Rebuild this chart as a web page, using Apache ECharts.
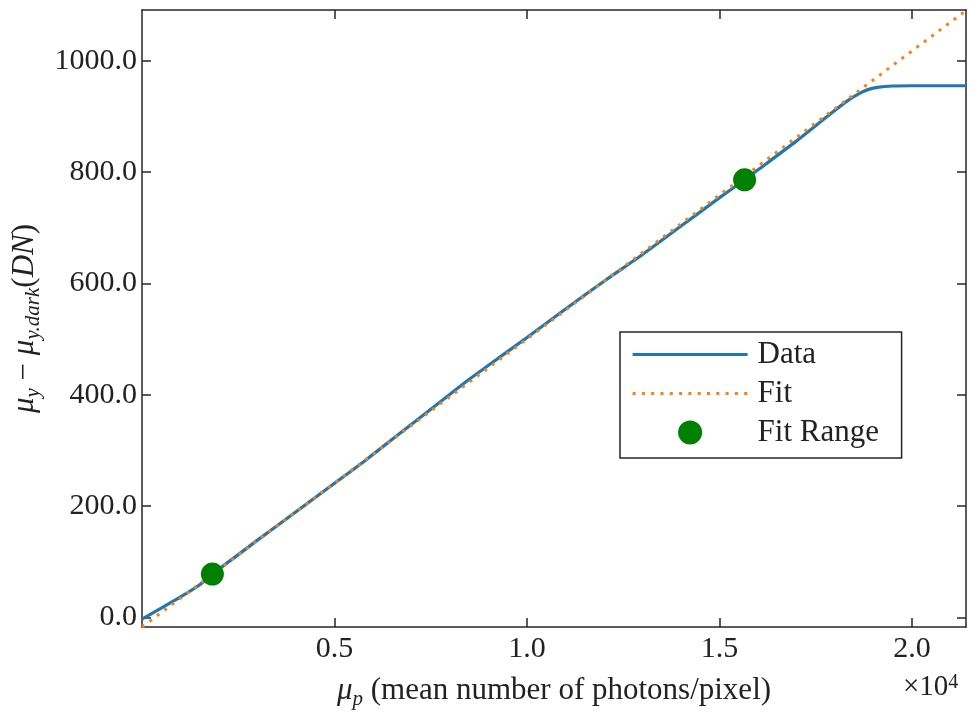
<!DOCTYPE html>
<html>
<head>
<meta charset="utf-8">
<script src="https://cdn.jsdelivr.net/npm/echarts@6/dist/echarts.min.js"></script>
<style>html,body{margin:0;padding:0;background:#fff}#c{width:972px;height:713px}</style>
</head>
<body>
<div id="c"></div>
<script>
// Data series (x: mean number of photons/pixel, y: DN)
const dataX = [0, 500, 1000, 1500, 1828, 2500, 3000, 4000, 5000, 5800, 6000, 7000, 8000, 8500, 9000, 10000, 11000, 12000, 13000, 14000, 15000, 15650, 16000, 17000, 17850, 18300, 18600, 18850, 19100, 19500, 20000, 21400];
const dataY = [-3, 17, 37, 59, 78, 113, 139, 190, 241, 282, 293, 347, 401, 428, 453, 503, 554, 604, 652, 703, 754, 786, 804, 856, 903, 927, 940, 948, 952, 954.5, 955, 955];
// Linear fit endpoints
const fitX = [0, 21400];
const fitY = [-17, 1090];
// Fit range markers
const rangeX = [1828, 15650];
const rangeY = [78, 786];
// Tick values
const xTicks = [5000, 10000, 15000, 20000];
const yTicks = [0, 200, 400, 600, 800, 1000];

const FONT = 'Liberation Serif';
const TXT = '#222';
const AX = '#262626';
const BLUE = '#1f77b4', ORANGE = '#ff7f0e', GREEN = '#008000';

const zip = (a, b) => a.map((v, i) => [v, b[i]]);

const chart = echarts.init(document.getElementById('c'), null, {renderer: 'canvas'});

const axisLineStyle = {show: true, onZero: false, lineStyle: {color: AX, width: 1.5}};
const tickStyle = {show: true, inside: true, length: 9, lineStyle: {color: AX, width: 1.5}};
const richName = {
  i: {fontStyle: 'italic', fontFamily: FONT, fontSize: 31, color: TXT, lineHeight: 38},
  n: {fontFamily: FONT, fontSize: 31, color: TXT, lineHeight: 38},
  s: {fontStyle: 'italic', fontFamily: FONT, fontSize: 21, color: TXT, lineHeight: 21, verticalAlign: 'bottom'}
};

chart.setOption({
  animation: false,
  backgroundColor: '#fff',
  grid: {left: 142, right: 6, top: 10, bottom: 86, containLabel: false, outerBoundsMode: 'none'},
  xAxis: [{
    type: 'value', min: 0, max: 21400,
    axisLine: axisLineStyle,
    axisTick: Object.assign({}, tickStyle, {customValues: xTicks}),
    axisLabel: {customValues: xTicks, formatter: v => (v / 10000).toFixed(1), color: TXT, fontFamily: FONT, fontSize: 30, margin: 7},
    splitLine: {show: false},
    name: '{i|μ}{s|p}{n| (mean number of photons/pixel)}',
    nameLocation: 'middle', nameGap: 45,
    nameTextStyle: {color: TXT, fontFamily: FONT, fontSize: 31, lineHeight: 38, rich: richName}
  }, {
    type: 'value', min: 0, max: 21400, position: 'top',
    axisLine: axisLineStyle,
    axisTick: Object.assign({}, tickStyle, {customValues: xTicks}),
    axisLabel: {show: false}, splitLine: {show: false}
  }],
  yAxis: [{
    type: 'value', min: -17, max: 1091,
    axisLine: axisLineStyle,
    axisTick: Object.assign({}, tickStyle, {customValues: yTicks}),
    axisLabel: {customValues: yTicks, formatter: v => v.toFixed(1), color: TXT, fontFamily: FONT, fontSize: 30, margin: 5},
    splitLine: {show: false},
    name: '{i|μ}{s|y}{n| − }{i|μ}{s|y.dark}{n|(}{i|DN}{n|)}',
    nameLocation: 'middle', nameGap: 95, nameRotate: 90,
    nameTextStyle: {color: TXT, fontFamily: FONT, fontSize: 31, lineHeight: 38, rich: richName}
  }, {
    type: 'value', min: -17, max: 1091, position: 'right',
    axisLine: axisLineStyle,
    axisTick: Object.assign({}, tickStyle, {customValues: yTicks}),
    axisLabel: {show: false}, splitLine: {show: false}
  }],
  legend: {
    orient: 'vertical', left: 620, top: 332,
    data: [
      {name: 'Data', itemStyle: {opacity: 0}, lineStyle: {color: BLUE, width: 3.2, type: 'solid'}},
      {name: 'Fit', itemStyle: {opacity: 0}, lineStyle: {color: ORANGE, width: 3, type: [3, 6.3]}},
      {name: 'Fit Range'}
    ],
    backgroundColor: '#fff',
    borderColor: '#262626', borderWidth: 1.5, borderRadius: 0,
    padding: [7, 2, 10, 11],
    itemWidth: 115, itemHeight: 24, itemGap: 8,
    textStyle: {color: TXT, fontFamily: FONT, fontSize: 31, lineHeight: 24, width: 142, padding: [0, 0, 0, 5]}
  },
  graphic: [{
    type: 'text', left: 903, top: 673,
    style: {
      text: '×10{sup|4}', fill: TXT, font: '29px "' + FONT + '"',
      rich: {sup: {fontSize: 20, fontFamily: FONT, fill: TXT, verticalAlign: 'top', lineHeight: 18}}
    }
  }],
  series: [{
    name: 'Data', type: 'line', data: zip(dataX, dataY), showSymbol: false, symbol: 'none',
    smooth: 0.2, lineStyle: {color: BLUE, width: 3.2}, itemStyle: {color: BLUE}, z: 2
  }, {
    name: 'Fit', type: 'line', data: zip(fitX, fitY), showSymbol: false, symbol: 'none',
    lineStyle: {color: ORANGE, width: 3, type: [3, 6.3]}, itemStyle: {color: ORANGE}, z: 3
  }, {
    name: 'Fit Range', type: 'scatter', data: zip(rangeX, rangeY), symbol: 'circle', symbolSize: 23,
    itemStyle: {color: GREEN, opacity: 1}, z: 4
  }]
});
</script>
</body>
</html>
